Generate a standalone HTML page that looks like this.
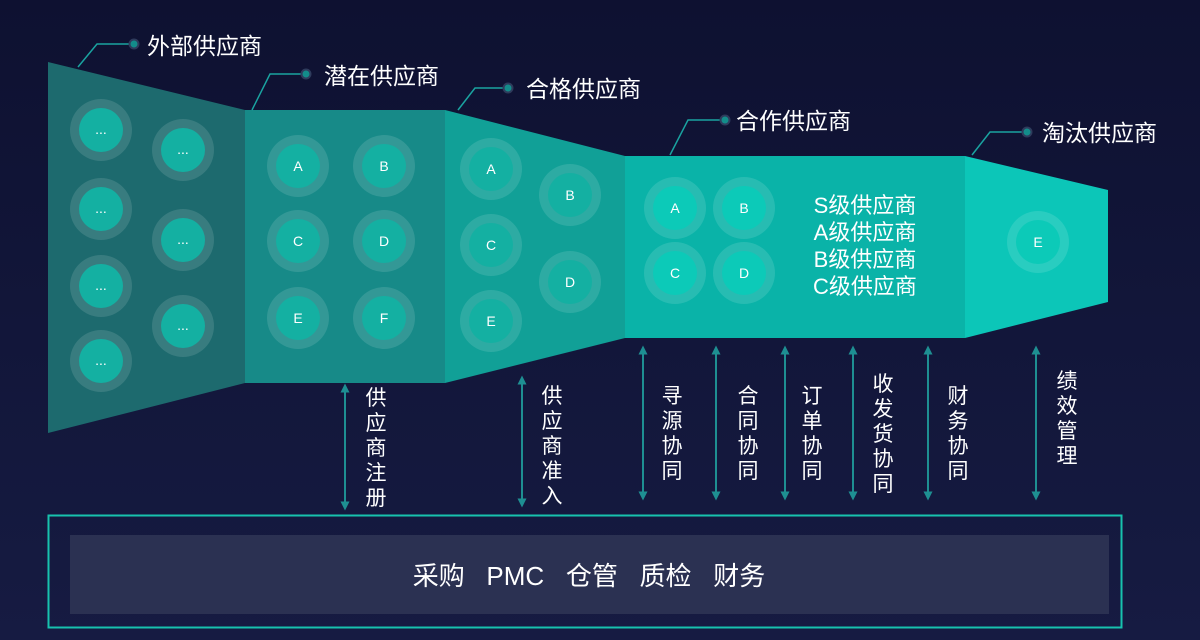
<!DOCTYPE html>
<html><head><meta charset="utf-8"><style>
html,body{margin:0;padding:0;width:1200px;height:640px;overflow:hidden;background:#12163a;}
svg{display:block}
text{font-family:"Liberation Sans","Noto Sans CJK SC",sans-serif;fill:#fff;}
</style></head><body>
<svg width="1200" height="640" viewBox="0 0 1200 640" xmlns="http://www.w3.org/2000/svg">
<defs>
<linearGradient id="bg" x1="0" y1="0" x2="0" y2="1"><stop offset="0" stop-color="#0e1131"/><stop offset="1" stop-color="#161b42"/></linearGradient>
<marker id="ah" viewBox="0 0 10 10" refX="5" refY="5" markerWidth="10" markerHeight="9" markerUnits="userSpaceOnUse" orient="auto-start-reverse"><path d="M0,0 L10,5 L0,10 z" fill="#1e8f92"/></marker>
</defs>
<rect width="1200" height="640" fill="url(#bg)"/>
<polygon points="48,62 245,110 245,383 48,433" fill="#1d6a6e"/>
<rect x="245" y="110" width="200" height="273" fill="#178a88"/>
<polygon points="445,110 625,156 625,338 445,383" fill="#11a097"/>
<rect x="625" y="156" width="340" height="182" fill="#0ab3a8"/>
<polygon points="965,156 1108,190 1108,302 965,338" fill="#0cc6b8"/>
<g fill="none" stroke="#1aa3a0" stroke-width="1.5">
<polyline points="134,44 97,44 78,67"/>
<polyline points="306,74 270,74 252,110"/>
<polyline points="508,88 475,88 458,110"/>
<polyline points="725,120 688,120 670,155"/>
<polyline points="1027,132 990,132 972,155"/>
</g>
<g fill="#138c8a" stroke="#2e3b5c" stroke-width="2">
<circle cx="134" cy="44" r="4.5"/><circle cx="306" cy="74" r="4.5"/><circle cx="508" cy="88" r="4.5"/><circle cx="725" cy="120" r="4.5"/><circle cx="1027" cy="132" r="4.5"/>
</g>
<g font-size="23">
<text x="147" y="54">外部供应商</text>
<text x="324" y="84">潜在供应商</text>
<text x="526" y="97">合格供应商</text>
<text x="736" y="129">合作供应商</text>
<text x="1042" y="141">淘汰供应商</text>
</g>
<g font-size="14" text-anchor="middle">
<g fill="#ffffff" fill-opacity="0.12">
<circle cx="101" cy="130" r="31"/><circle cx="183" cy="150" r="31"/><circle cx="101" cy="209" r="31"/><circle cx="183" cy="240" r="31"/><circle cx="101" cy="286" r="31"/><circle cx="183" cy="326" r="31"/><circle cx="101" cy="361" r="31"/>
<circle cx="298" cy="166" r="31"/><circle cx="384" cy="166" r="31"/><circle cx="298" cy="241" r="31"/><circle cx="384" cy="241" r="31"/><circle cx="298" cy="318" r="31"/><circle cx="384" cy="318" r="31"/>
<circle cx="491" cy="169" r="31"/><circle cx="570" cy="195" r="31"/><circle cx="491" cy="245" r="31"/><circle cx="570" cy="282" r="31"/><circle cx="491" cy="321" r="31"/>
<circle cx="675" cy="208" r="31"/><circle cx="744" cy="208" r="31"/><circle cx="675" cy="273" r="31"/><circle cx="744" cy="273" r="31"/>
<circle cx="1038" cy="242" r="31"/>
</g>
<g fill="#14b0a2">
<circle cx="101" cy="130" r="22"/><circle cx="183" cy="150" r="22"/><circle cx="101" cy="209" r="22"/><circle cx="183" cy="240" r="22"/><circle cx="101" cy="286" r="22"/><circle cx="183" cy="326" r="22"/><circle cx="101" cy="361" r="22"/>
<circle cx="298" cy="166" r="22"/><circle cx="384" cy="166" r="22"/><circle cx="298" cy="241" r="22"/><circle cx="384" cy="241" r="22"/><circle cx="298" cy="318" r="22"/><circle cx="384" cy="318" r="22"/>
<circle cx="491" cy="169" r="22"/><circle cx="570" cy="195" r="22"/><circle cx="491" cy="245" r="22"/><circle cx="570" cy="282" r="22"/><circle cx="491" cy="321" r="22"/>
</g>
<g fill="#0ccab8">
<circle cx="675" cy="208" r="22"/><circle cx="744" cy="208" r="22"/><circle cx="675" cy="273" r="22"/><circle cx="744" cy="273" r="22"/>
<circle cx="1038" cy="242" r="22"/>
</g>
<text x="101" y="134">...</text><text x="183" y="154">...</text><text x="101" y="213">...</text><text x="183" y="244">...</text><text x="101" y="290">...</text><text x="183" y="330">...</text><text x="101" y="365">...</text>
<text x="298" y="171">A</text><text x="384" y="171">B</text><text x="298" y="246">C</text><text x="384" y="246">D</text><text x="298" y="323">E</text><text x="384" y="323">F</text>
<text x="491" y="174">A</text><text x="570" y="200">B</text><text x="491" y="250">C</text><text x="570" y="287">D</text><text x="491" y="326">E</text>
<text x="675" y="213">A</text><text x="744" y="213">B</text><text x="675" y="278">C</text><text x="744" y="278">D</text>
<text x="1038" y="247">E</text>
</g>
<g font-size="22" text-anchor="middle">
<text x="865" y="213">S级供应商</text>
<text x="865" y="240">A级供应商</text>
<text x="865" y="267">B级供应商</text>
<text x="865" y="294">C级供应商</text>
</g>
<g stroke="#1e8f92" stroke-width="2" marker-start="url(#ah)" marker-end="url(#ah)">
<line x1="345" y1="388" x2="345" y2="506"/>
<line x1="522" y1="380" x2="522" y2="503"/>
<line x1="643" y1="350" x2="643" y2="496"/>
<line x1="716" y1="350" x2="716" y2="496"/>
<line x1="785" y1="350" x2="785" y2="496"/>
<line x1="853" y1="350" x2="853" y2="496"/>
<line x1="928" y1="350" x2="928" y2="496"/>
<line x1="1036" y1="350" x2="1036" y2="496"/>
</g>
<g font-size="21" text-anchor="middle">
<text x="376" y="405">供</text><text x="376" y="430">应</text><text x="376" y="455">商</text><text x="376" y="480">注</text><text x="376" y="505">册</text>
<text x="552" y="403">供</text><text x="552" y="428">应</text><text x="552" y="453">商</text><text x="552" y="478">准</text><text x="552" y="503">入</text>
<text x="672" y="403">寻</text><text x="672" y="428">源</text><text x="672" y="453">协</text><text x="672" y="478">同</text>
<text x="748" y="403">合</text><text x="748" y="428">同</text><text x="748" y="453">协</text><text x="748" y="478">同</text>
<text x="812" y="403">订</text><text x="812" y="428">单</text><text x="812" y="453">协</text><text x="812" y="478">同</text>
<text x="883" y="391">收</text><text x="883" y="416">发</text><text x="883" y="441">货</text><text x="883" y="466">协</text><text x="883" y="491">同</text>
<text x="958" y="403">财</text><text x="958" y="428">务</text><text x="958" y="453">协</text><text x="958" y="478">同</text>
<text x="1067" y="388">绩</text><text x="1067" y="413">效</text><text x="1067" y="438">管</text><text x="1067" y="463">理</text>
</g>
<rect x="48.5" y="515.5" width="1073" height="112" fill="none" stroke="#17c2ae" stroke-width="2"/>
<rect x="70" y="535" width="1039" height="79" fill="#2b3152"/>
<text x="589" y="585" font-size="26" text-anchor="middle" xml:space="preserve">采购   PMC   仓管   质检   财务</text>
</svg>
</body></html>
